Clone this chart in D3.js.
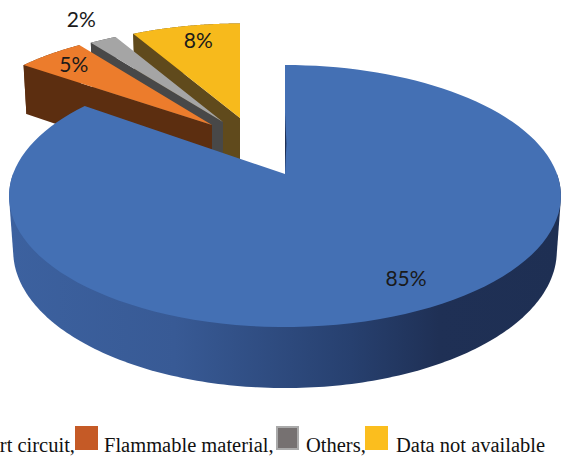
<!DOCTYPE html>
<html>
<head>
<meta charset="utf-8">
<script src="https://cdn.jsdelivr.net/npm/d3@7"></script>
<style>
  html, body { margin: 0; padding: 0; background: #fff; overflow: hidden; }
  svg { display: block; }
  .pct { font-family: Lato, "Open Sans", sans-serif; font-size: 21px; fill: #1a1a1a; text-anchor: middle; }
  .leg { font-family: "Liberation Serif", serif; font-size: 20.5px; fill: #111; }
</style>
</head>
<body>
<div id="chart"></div>
<script>
var categories = ["Short circuit", "Flammable material", "Others", "Data not available"];
var values = [85, 5, 2, 8];
var labels = ["85%", "5%", "2%", "8%"];

var topColors = ["#4470b4", "#ec7c2c", "#a5a5a5", "#f7ba1c"];
var wallColors = ["#1f3055", "#5c2e10", "#484848", "#604a1c"];
var legendColors = ["#4472c4", "#c55a26", "#767171", "#fbbe1e"];

var svgWidth = 561;
var svgHeight = 457;

// centre of the pie and the perspective of the tilted plane
var cx = 285, cy = 174;
var rx = 272, ry = 127.3, persp = 0.168;

// how far each slice is pulled out: sideways in px, backwards on the plane
var pullX = [0, -73, -62, -45];
var pullV = [0, -0.411, -0.438, -0.475];
var labelR = [0.83, 0.8, 1.28, 0.8];
var labelDx = [4, -6, 7, 3];
var labelDy = [-2, -2, 0, -2];

var svg = d3.select("#chart")
  .append("svg")
  .attr("width", svgWidth)
  .attr("height", svgHeight);

var grad = svg.append("defs").append("linearGradient")
  .attr("id", "sideBlue")
  .attr("gradientUnits", "userSpaceOnUse")
  .attr("x1", 10).attr("x2", 560).attr("y1", 0).attr("y2", 0);
grad.append("stop").attr("offset", 0).attr("stop-color", "#3c619f");
grad.append("stop").attr("offset", 0.3).attr("stop-color", "#385a95");
grad.append("stop").attr("offset", 0.62).attr("stop-color", "#27406f");
grad.append("stop").attr("offset", 0.78).attr("stop-color", "#1f3055");
grad.append("stop").attr("offset", 1).attr("stop-color", "#1e2f53");

var pie = d3.pie().sort(null).value(d => d);
var arcs = pie(values);

var line = d3.line().x(d => d[0]).y(d => d[1]);

// point at angle a and radius r of slice i, lower = on the bottom face
function project(i, a, r, lower) {
  var v = -Math.cos(a) * r + pullV[i];
  var s = 1 / (1 - persp * v);
  var x = cx + pullX[i] + rx * Math.sin(a) * r * s;
  var y = cy + ry * v * s;
  if (lower) {
    x = cx + pullX[i] + (x - cx - pullX[i]) * 0.985;
    y = y + 19 + 35 * s;
  }
  return [x, y];
}

function rim(i, lower) {
  var pts = [];
  var a0 = arcs[i].startAngle, a1 = arcs[i].endAngle;
  d3.range(0, 121).forEach(function(k) {
    pts.push(project(i, a0 + (a1 - a0) * k / 120, 1, lower));
  });
  return pts;
}

function drawSlice(i) {
  var a0 = arcs[i].startAngle;
  var upper = rim(i, false);
  var lower = rim(i, true);

  if (i === 0) {
    // front half of the big slice, hull keeps the sides straight
    var front = [];
    d3.range(90, 271).forEach(function(deg) {
      var a = deg * Math.PI / 180;
      front.push(project(0, a, 1, false));
      front.push(project(0, a, 1, true));
    });
    svg.append("path")
      .attr("d", line(d3.polygonHull(front)) + "Z")
      .attr("fill", "url(#sideBlue)");
  } else {
    // outer wall
    svg.append("path")
      .attr("d", line(upper.concat(lower.slice().reverse())) + "Z")
      .attr("fill", wallColors[i]);
    // radial wall on the left edge of the pulled slices
    svg.append("path")
      .attr("d", line([project(i, a0, 1, false), project(i, a0, 0, false),
        project(i, a0, 0, true), project(i, a0, 1, true)]) + "Z")
      .attr("fill", wallColors[i]);
  }

  svg.append("path")
    .attr("d", line([project(i, a0, 0, false)].concat(upper)) + "Z")
    .attr("fill", topColors[i]);
}

// back to front so each slice covers the wall behind it
[3, 2, 1, 0].forEach(drawSlice);

// thin dark edge showing at the start of the big slice
svg.append("path")
  .attr("d", line([project(0, 0, 0, false), project(0, 0, 0.52, false),
    [project(0, 0, 0.52, false)[0] + 1.4, project(0, 0, 0.25, false)[1]]]) + "Z")
  .attr("fill", wallColors[0]);

// percent labels
arcs.forEach(function(d, i) {
  var mid = (d.startAngle + d.endAngle) / 2;
  var p = project(i, mid, labelR[i], false);
  svg.append("text")
    .attr("class", "pct")
    .attr("x", p[0] + labelDx[i])
    .attr("y", p[1] + 7 + labelDy[i])
    .text(labels[i]);
});

// legend runs off the left edge like the source picture
var swatchX = [null, 75, 276, 365];
var textX = [null, 104, 306, 396];

categories.forEach(function(c, i) {
  if (i > 0) {
    svg.append("rect")
      .attr("x", swatchX[i] + (i === 2 ? 1 : 0))
      .attr("y", 426 + (i === 2 ? 1 : 0))
      .attr("width", 23 - (i === 2 ? 2 : 0))
      .attr("height", 24 - (i === 2 ? 2 : 0))
      .attr("fill", legendColors[i])
      .attr("stroke", i === 2 ? "#aaa" : "none")
      .attr("stroke-width", 2);
  }
  var t = svg.append("text")
    .attr("class", "leg")
    .attr("y", 452)
    .text(c + (i < categories.length - 1 ? "," : ""));
  if (i === 0) {
    t.attr("x", 75).attr("text-anchor", "end");
  } else {
    t.attr("x", textX[i]);
  }
});
</script>
</body>
</html>
